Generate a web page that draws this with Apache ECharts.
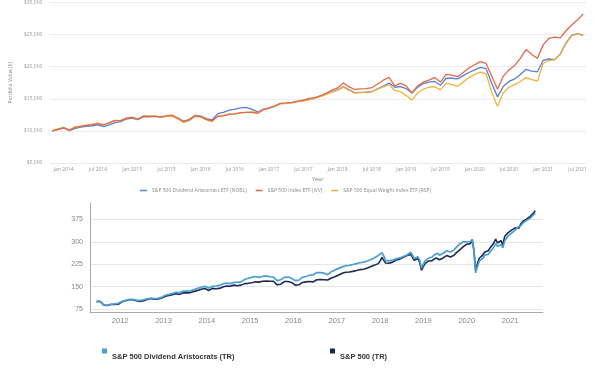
<!DOCTYPE html>
<html><head><meta charset="utf-8">
<script src="https://cdn.jsdelivr.net/npm/echarts@6/dist/echarts.min.js"></script>
<style>html,body{margin:0;padding:0;background:#fff}#c{width:600px;height:371px}</style>
</head><body><div id="c"></div>
<script>
// ---------- Top chart: growth of $10,000 (monthly, Nov 2013 - Aug 2021) ----------
const MONTHS = ['Jan','Feb','Mar','Apr','May','Jun','Jul','Aug','Sep','Oct','Nov','Dec'];
const topCategories = [];
for (let y = 2013, m = 10; y < 2021 || (y === 2021 && m <= 7); m++) {
  if (m === 12) { m = 0; y++; }
  topCategories.push(MONTHS[m] + ' ' + y);
}
const topNames = ['S&P 500 Dividend Aristocrats ETF (NOBL)', 'S&P 500 Index ETF (IVV)', 'S&P 500 Equal Weight Index ETF (RSP)'];
const ivv = [10000,10250,10500,10100,10550,10700,10850,10950,11150,10950,11300,11650,11600,12000,
  12100,11800,12300,12250,12300,12200,12350,12450,12000,11450,11700,12350,
  12250,11800,11550,12300,12350,12600,12650,12850,12900,12900,12750,13300,
  13550,13850,14300,14350,14450,14650,14800,15050,15200,15500,15850,16350,
  16700,17450,16850,16450,16550,16600,16750,17300,17900,18350,17000,17400,
  17000,15900,17000,17600,17900,18300,17600,18800,18700,18450,19100,19800,
  20300,20800,20500,18500,16500,18500,19500,20200,21300,22700,21900,21300,
  23400,24400,24600,24500,25600,26500,27300,28200];
const nobl = [10000,10200,10450,10050,10400,10600,10700,10800,10950,10650,10950,11300,11450,11850,
  12000,11750,12200,12200,12250,12150,12250,12350,12000,11500,11800,12400,
  12300,11900,11700,12700,12900,13250,13400,13600,13650,13350,12950,13400,
  13600,13850,14250,14300,14400,14600,14750,14900,15050,15400,15750,16100,
  16400,16900,16400,15950,16000,16000,16100,16550,17000,17450,16800,16900,
  16600,15900,16800,17350,17600,17700,17100,18200,18200,18100,18600,19100,
  19500,19900,19700,17400,15300,16900,17700,18100,18800,19600,19300,19200,
  21000,21200,21100,22000,23700,24900,25150,24900];
const rsp = [10000,10300,10550,10150,10600,10750,10900,11050,11200,10900,11200,11600,11650,12000,
  12150,11850,12350,12300,12250,12150,12250,12300,11850,11300,11600,12250,
  12150,11700,11450,12300,12400,12600,12650,12800,12900,12950,12800,13350,
  13600,13900,14300,14250,14350,14550,14650,14850,15100,15350,15700,16050,
  16350,16850,16300,15900,15950,16050,16150,16500,16850,17200,16300,16100,
  15500,14800,15900,16500,16800,16900,16400,17400,17200,16950,17600,18300,
  18800,19150,18900,16000,13800,15900,16800,17200,17700,18300,18000,17750,
  20500,21000,21050,21900,23600,24800,25100,24850];

// ---------- Bottom chart: indexed total return (semi-monthly, Jun 2011 - Aug 2021) ----------
const botNames = ['S&P 500 Dividend Aristocrats (TR)', 'S&P 500 (TR)'];
const botDates = [];
(function(){
  botDates.push('2011-06-16');
  for (let y = 2011, m = 6; ; m++) {
    if (m === 12) { m = 0; y++; }
    const mm = String(m + 1).padStart(2, '0');
    botDates.push(y + '-' + mm + '-01');
    if (y === 2021 && m === 7) break;
    botDates.push(y + '-' + mm + '-16');
  }
})();
const aristocrats = [
  100,102,100,97,89,90,88,85,91,94,92,94,94,
  97,100,102,104,106,107,108,107,108,105,101,103,104,106,107,109,110,111,112,110,109,111,112,114,
  118,121,122,124,125,127,129,131,133,130,133,135,137,135,133,136,138,140,141,144,146,148,149,151,
  148,145,148,151,153,152,155,154,157,159,161,162,163,160,161,164,166,164,161,166,170,174,176,178,
  177,181,182,184,183,181,182,184,185,186,184,183,184,182,176,170,172,173,177,181,183,182,181,178,
  173,170,169,172,177,181,183,184,186,188,189,190,195,197,198,197,196,195,193,190,195,200,203,206,
  209,211,213,216,218,220,219,221,222,224,226,227,229,230,231,232,234,236,238,241,244,247,251,254,
  256,264,252,238,242,236,238,239,240,243,245,246,248,251,253,256,260,265,255,244,247,250,238,212,
  226,236,241,246,250,249,256,260,262,255,252,262,268,270,272,266,269,273,280,286,292,298,300,302,
  300,304,301,308,275,196,218,236,240,245,255,258,258,266,274,282,294,285,286,290,280,304,312,320,
  324,330,328,340,348,342,354,362,368,371,374,378,384,390,395];
const sp500 = [
  100,103,101,97,88,89,87,83,90,93,90,92,91,
  95,99,101,103,105,106,107,106,107,103,99,100,101,103,105,107,108,110,111,108,107,109,110,112,
  115,118,119,120,121,123,124,126,128,124,127,129,131,129,127,130,132,134,135,137,139,141,142,144,
  140,137,141,144,145,143,146,144,147,149,151,152,153,151,152,155,156,153,150,155,158,160,158,161,
  159,163,164,166,167,165,166,168,168,169,167,168,170,168,164,156,157,158,164,167,168,167,166,164,
  158,155,153,156,161,164,165,166,166,167,168,166,171,173,174,174,174,173,174,172,176,179,182,183,
  187,189,191,195,196,198,197,199,200,201,203,204,206,207,208,208,210,212,214,217,219,222,225,227,
  236,248,238,229,233,228,230,232,235,239,241,242,244,248,251,254,256,258,248,238,241,244,230,205,
  218,228,232,236,238,237,243,246,248,240,236,246,252,254,256,249,251,255,262,266,272,278,283,287,
  292,296,294,308,272,205,228,245,250,256,266,271,270,280,288,296,309,296,298,304,290,318,324,331,
  337,340,336,347,350,346,360,368,372,375,379,384,388,396,404];
const botYTicks = [75, 150, 225, 300, 375];
const botYears = [2012,2013,2014,2015,2016,2017,2018,2019,2020,2021];

const ts = (d) => Date.parse(d + 'T00:00:00Z');
const pair = (arr) => arr.map((v, i) => [ts(botDates[i]), v]);
const yearTicks = botYears.map(y => ts(y + '-01-01'));
const chart = echarts.init(document.getElementById('c'), null, {renderer: 'canvas'});
const topFont = 'Open Sans, Liberation Sans, sans-serif';
const botFont = 'Liberation Sans, Arial, sans-serif';
const botLegendText = {fontSize: 7.5, fontWeight: 'bold', color: '#333', fontFamily: botFont, lineHeight: 11};

chart.setOption({
  animation: false,
  backgroundColor: '#fff',
  grid: [
    {left: 32, right: 14, top: 1, bottom: 208},
    {left: 90, right: 57, top: 203, bottom: 59}
  ],
  legend: [
    {data: topNames, left: 140, top: 188, padding: 0, itemWidth: 7, itemHeight: 1.5, itemGap: 9, icon: 'rect',
     textStyle: {fontSize: 5, color: '#888', fontFamily: topFont}},
    {data: [botNames[0]], left: 102, top: 340, padding: 0, itemWidth: 5, itemHeight: 5, icon: 'rect', itemGap: 3,
     formatter: (n) => '\n' + n, textStyle: botLegendText},
    {data: [botNames[1]], left: 330, top: 340, padding: 0, itemWidth: 5, itemHeight: 5, icon: 'rect', itemGap: 3,
     formatter: (n) => '\n' + n, textStyle: botLegendText}
  ],
  xAxis: [
    {type: 'category', gridIndex: 0, data: topCategories, boundaryGap: true,
     name: 'Year', nameLocation: 'middle', nameGap: 13,
     nameTextStyle: {fontSize: 5.5, color: '#888', fontFamily: topFont},
     axisLine: {show: false}, axisTick: {show: false},
     axisLabel: {fontSize: 5, color: '#999', margin: 4, fontFamily: topFont,
       interval: (i, v) => v.startsWith('Jan') || v.startsWith('Jul')}},
    {type: 'value', gridIndex: 1, min: ts('2011-04-22'), max: ts('2021-10-05'), scale: true,
     axisLine: {show: true, onZero: false, lineStyle: {color: '#aaa', width: 1}},
     axisTick: {show: false, customValues: yearTicks}, splitLine: {show: false},
     axisLabel: {fontSize: 7.5, color: '#888', margin: 5, fontFamily: botFont,
       customValues: yearTicks,
       formatter: (v) => String(new Date(v).getUTCFullYear())}}
  ],
  yAxis: [
    {type: 'value', gridIndex: 0, min: 5000, max: 30000, interval: 5000,
     name: 'Portfolio Value ($)', nameLocation: 'middle', nameGap: 28,
     nameTextStyle: {fontSize: 5, color: '#888', fontFamily: topFont},
     axisLine: {show: false}, axisTick: {show: false},
     splitLine: {lineStyle: {color: '#ececec', width: 1}},
     axisLabel: {fontSize: 5, color: '#999', margin: 7, fontFamily: topFont,
       formatter: (v) => '$' + v.toLocaleString('en-US')}},
    {type: 'value', gridIndex: 1, min: 65, max: 430,
     axisLine: {show: true, onZero: false, lineStyle: {color: '#aaa', width: 1}},
     axisTick: {show: false, customValues: botYTicks},
     splitLine: {show: true, lineStyle: {color: '#e6e6e6', width: 1}},
     axisLabel: {fontSize: 7, color: '#888', margin: 7, fontFamily: botFont, customValues: botYTicks}}
  ],
  series: [
    {name: topNames[0], type: 'line', xAxisIndex: 0, yAxisIndex: 0, data: nobl, showSymbol: false,
     color: '#5a7fd8', lineStyle: {width: 1.3}},
    {name: topNames[2], type: 'line', xAxisIndex: 0, yAxisIndex: 0, data: rsp, showSymbol: false,
     color: '#f4b23e', lineStyle: {width: 1.3}},
    {name: topNames[1], type: 'line', xAxisIndex: 0, yAxisIndex: 0, data: ivv, showSymbol: false,
     color: '#e3694b', lineStyle: {width: 1.3}},
    {name: botNames[1], type: 'line', xAxisIndex: 1, yAxisIndex: 1, data: pair(sp500), showSymbol: false,
     color: '#1b2957', lineStyle: {width: 1.6}},
    {name: botNames[0], type: 'line', xAxisIndex: 1, yAxisIndex: 1, data: pair(aristocrats), showSymbol: false,
     color: '#4b9fd0', lineStyle: {width: 1.7}}
  ]
});
</script>
</body></html>
